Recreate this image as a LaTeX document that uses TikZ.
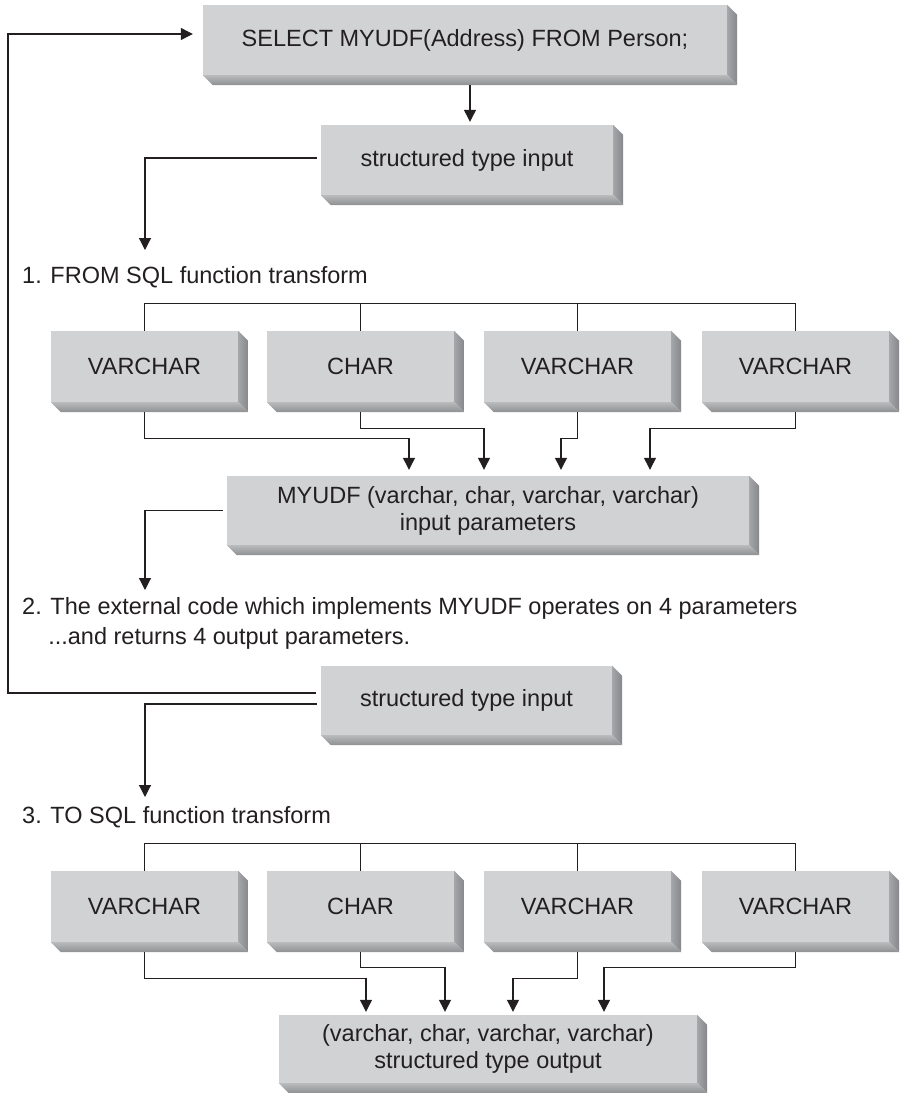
\documentclass[tikz,border=0pt]{standalone}
\usepackage{fontspec}
\setmainfont{Liberation Sans}
\usetikzlibrary{arrows.meta,calc}
\definecolor{face}{RGB}{209,210,212}
\definecolor{ink}{RGB}{35,31,32}
\definecolor{btop}{RGB}{185,186,188}
\definecolor{bbot}{RGB}{142,143,145}
\definecolor{rl}{RGB}{165,166,168}
\definecolor{rr}{RGB}{134,135,138}
\tikzset{
  box/.style={fill=face, inner sep=0pt, text=ink, align=center, font=\fontsize{23.5}{27}\selectfont},
  lbl/.style={inner sep=0pt, text=ink, anchor=base west, align=left, font=\fontsize{23.5}{30}\selectfont},
  conn/.style={draw=ink, line width=1.2pt},
  arr/.style={conn, -{Triangle[length=12pt,width=12pt]}}
}
\newcommand{\bev}[1]{%
  \shade[left color=rl, right color=rr] (#1.north east) -- ([shift={(10,10)}]#1.north east) -- ([shift={(10,10)}]#1.south east) -- (#1.south east) -- cycle;
  \shade[top color=btop, bottom color=bbot] (#1.south west) -- (#1.south east) -- ([shift={(10,10)}]#1.south east) -- ([shift={(10,10)}]#1.south west) -- cycle;
}
\begin{document}
\begin{tikzpicture}[x=1pt,y=-1pt]
\useasboundingbox (0,0) rectangle (900,1093);
% boxes
\node[box, minimum width=524pt, minimum height=70pt] (sel) at (465,40) {SELECT MYUDF(Address) FROM Person;};
\node[box, minimum width=292pt, minimum height=70pt] (s1) at (467,160) {structured type input};
\node[box, minimum width=187pt, minimum height=71pt] (v1) at (144.5,366.5) {VARCHAR};
\node[box, minimum width=187pt, minimum height=71pt] (v2) at (360.5,366.5) {CHAR};
\node[box, minimum width=187pt, minimum height=71pt] (v3) at (577.5,366.5) {VARCHAR};
\node[box, minimum width=187pt, minimum height=71pt] (v4) at (795.5,366.5) {VARCHAR};
\node[box, minimum width=522pt, minimum height=69pt] (my) at (488,510.5) {MYUDF (varchar, char, varchar, varchar)\\input parameters};
\node[box, minimum width=291pt, minimum height=69pt] (s2) at (466.5,700.5) {structured type input};
\node[box, minimum width=187pt, minimum height=71pt] (w1) at (144.5,906.5) {VARCHAR};
\node[box, minimum width=187pt, minimum height=71pt] (w2) at (360.5,906.5) {CHAR};
\node[box, minimum width=187pt, minimum height=71pt] (w3) at (577.5,906.5) {VARCHAR};
\node[box, minimum width=187pt, minimum height=71pt] (w4) at (795.5,906.5) {VARCHAR};
\node[box, minimum width=418pt, minimum height=68pt] (out) at (488,1049) {(varchar, char, varchar, varchar)\\structured type output};
\foreach \n in {sel,s1,v1,v2,v3,v4,my,s2,w1,w2,w3,w4,out} {\bev{\n}}
% labels
\node[lbl] (l1) at (22,283) {1. FROM SQL function transform};
\node[lbl] (l2) at (22,644) {2. The external code which implements MYUDF operates on 4 parameters\\\hphantom{2.\ }...and returns 4 output parameters.};
\node[lbl] (l3) at (22,823) {3. TO SQL function transform};
\coordinate (t1) at (145,250);
\coordinate (t2) at (145,590);
\coordinate (t3) at (145,797);
\coordinate (loop) at (8,34);
% connectors
\draw[arr] ([xshift=5pt,yshift=-10pt]sel.south) -- ([xshift=3pt,yshift=3pt]s1.north);
\draw[arr] ([xshift=-4pt,yshift=2pt]s1.west) -| (t1);
\draw[arr] ([xshift=-5pt,yshift=7.5pt]s2.west) -| (loop) -- ([xshift=-10pt,yshift=6pt]sel.west);
\draw[arr] ([xshift=-4pt]my.west) -| (t2);
\draw[arr] ([xshift=-4pt,yshift=-3.5pt]s2.west) -| (t3);
% bracket 1
\draw[conn] (v1.north) -- ([yshift=27pt]v1.north) -- ([yshift=27pt]v4.north) -- (v4.north);
\draw[conn] (v2.north) -- ([yshift=27pt]v2.north);
\draw[conn] (v3.north) -- ([yshift=27pt]v3.north);
\draw[arr] ([yshift=-10pt]v1.south) |- ([xshift=-79pt,yshift=37pt]my.north) -- ([xshift=-79pt,yshift=6pt]my.north);
\draw[arr] ([yshift=-10pt]v2.south) |- ([xshift=-4pt,yshift=47pt]my.north) -- ([xshift=-4pt,yshift=6pt]my.north);
\draw[arr] ([yshift=-10pt]v3.south) |- ([xshift=73pt,yshift=37pt]my.north) -- ([xshift=73pt,yshift=6pt]my.north);
\draw[arr] ([yshift=-10pt]v4.south) |- ([xshift=162pt,yshift=47pt]my.north) -- ([xshift=162pt,yshift=6pt]my.north);
% bracket 2
\draw[conn] (w1.north) -- ([yshift=27pt]w1.north) -- ([yshift=27pt]w4.north) -- (w4.north);
\draw[conn] (w2.north) -- ([yshift=27pt]w2.north);
\draw[conn] (w3.north) -- ([yshift=27pt]w3.north);
\draw[arr] ([yshift=-10pt]w1.south) |- ([xshift=-122pt,yshift=36pt]out.north) -- ([xshift=-122pt,yshift=3pt]out.north);
\draw[arr] ([yshift=-10pt]w2.south) |- ([xshift=-43pt,yshift=47pt]out.north) -- ([xshift=-43pt,yshift=3pt]out.north);
\draw[arr] ([yshift=-10pt]w3.south) |- ([xshift=25pt,yshift=36pt]out.north) -- ([xshift=25pt,yshift=3pt]out.north);
\draw[arr] ([yshift=-10pt]w4.south) |- ([xshift=116pt,yshift=47pt]out.north) -- ([xshift=116pt,yshift=3pt]out.north);
\end{tikzpicture}
\end{document}
